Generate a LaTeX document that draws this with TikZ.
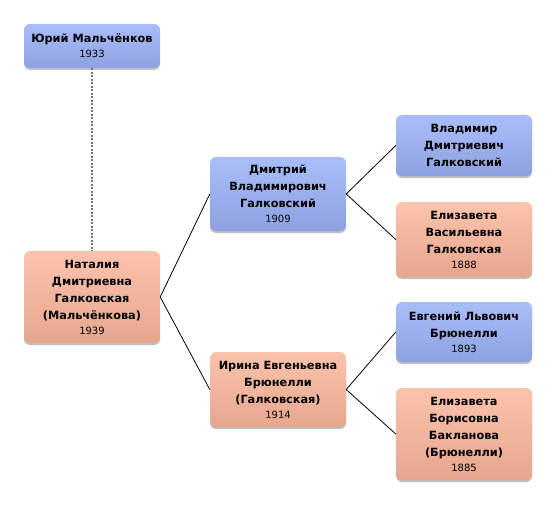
\documentclass[tikz,border=0pt]{standalone}
\usepackage{fontspec}
\setmainfont{DejaVu Sans}
\usetikzlibrary{shadows}
\definecolor{bluetop}{HTML}{A9BEF9}
\definecolor{bluebot}{HTML}{8DA1E0}
\definecolor{pinktop}{HTML}{FCC3AC}
\definecolor{pinkbot}{HTML}{E6A68E}
\tikzset{
  person/.style={rounded corners=6pt, minimum width=136pt, align=center,
    inner sep=0pt, font=\fontsize{11.3}{17}\selectfont\bfseries,
    drop shadow={shadow xshift=0pt, shadow yshift=-2pt, opacity=0.25, fill=black}},
  bluebox/.style={person, top color=bluetop, bottom color=bluebot},
  pinkbox/.style={person, top color=pinktop, bottom color=pinkbot},
  link/.style={draw=black, line width=0.8pt},
  dashline/.style={draw=black!55, line width=1.5pt, dash pattern=on 2pt off 1.5pt}
}
\newcommand{\yr}[1]{\\[-2pt]{\fontsize{10}{12}\selectfont\mdseries #1}}
\begin{document}
\begin{tikzpicture}[x=1pt,y=-1pt]
\useasboundingbox (0,0) rectangle (556,505);
\node[bluebox, minimum height=44pt] (yuri) at (92,46) {Юрий Мальчёнков\yr{1933}};
\node[pinkbox, minimum height=92pt] (natalia) at (92,297) {Наталия\\Дмитриевна\\Галковская\\(Мальчёнкова)\yr{1939}};
\node[bluebox, minimum height=74pt] (dmitry) at (278,194) {Дмитрий\\Владимирович\\Галковский\yr{1909}};
\node[pinkbox, minimum height=75pt] (irina) at (278,389.5) {Ирина Евгеньевна\\Брюнелли\\(Галковская)\yr{1914}};
\node[bluebox, minimum height=61pt] (vlad) at (464,145.5) {Владимир\\Дмитриевич\\Галковский};
\node[pinkbox, minimum height=75pt] (elizv) at (464,239.5) {Елизавета\\Васильевна\\Галковская\yr{1888}};
\node[bluebox, minimum height=60pt] (evg) at (464,332) {Евгений Львович\\Брюнелли\yr{1893}};
\node[pinkbox, minimum height=92pt] (elizb) at (464,434) {Елизавета\\Борисовна\\Бакланова\\(Брюнелли)\yr{1885}};
\draw[dashline] (yuri.south) -- (natalia.north);
\draw[link] (natalia.east) -- (dmitry.west);
\draw[link] (natalia.east) -- (irina.west);
\draw[link] (dmitry.east) -- (vlad.west);
\draw[link] (dmitry.east) -- (elizv.west);
\draw[link] (irina.east) -- (evg.west);
\draw[link] (irina.east) -- (elizb.west);
\end{tikzpicture}
\end{document}
